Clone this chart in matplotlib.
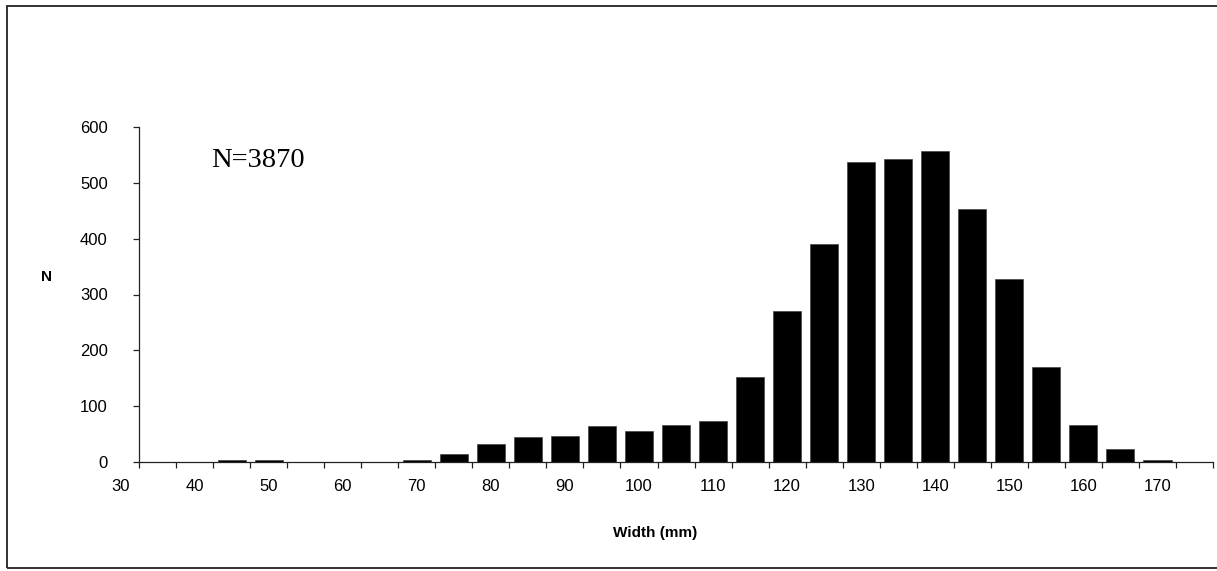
import matplotlib
matplotlib.use('Agg')
import matplotlib.pyplot as plt
from matplotlib.patches import Rectangle
from matplotlib.ticker import FixedLocator
import numpy as np

# width classes (mm, class centres) and number of specimens in each
widths = [45, 50, 70, 75, 80, 85, 90, 95, 100, 105, 110, 115, 120,
          125, 130, 135, 140, 145, 150, 155, 160, 165, 170]
counts = [4, 4, 4, 14, 32, 44, 47, 65, 56, 66, 74, 152, 271,
          390, 537, 542, 557, 453, 327, 171, 67, 24, 4]

x_labels = [30, 40, 50, 60, 70, 80, 90, 100, 110, 120, 130, 140, 150, 160, 170]
y_ticks = [0, 100, 200, 300, 400, 500, 600]

plt.rcParams['font.family'] = ['Liberation Sans', 'DejaVu Sans']

W, H = 1217, 571
fig = plt.figure(figsize=(W / 100, H / 100), dpi=100)
ax = fig.add_axes([102 / W, 1 - 462 / H, (1213 - 102) / W, (462 - 127) / H])

ax.bar(widths, counts, width=3.8, color='black', edgecolor='#444444', linewidth=0.5)

ax.set_xlim(27.5, 177.5)
ax.set_ylim(0, 600)

for s in ['top', 'right']:
    ax.spines[s].set_visible(False)
ax.spines['left'].set_position(('data', 32.5))
ax.spines['bottom'].set_bounds(32.5, 177.5)
for s in ['left', 'bottom']:
    ax.spines[s].set_color('#222222')
    ax.spines[s].set_linewidth(0.9)

# tick marks sit on class boundaries, labels every other class
ax.xaxis.set_major_locator(FixedLocator(np.arange(32.5, 178, 5)))
ax.xaxis.set_minor_locator(FixedLocator(x_labels))
ax.set_xticklabels([], minor=False)
ax.set_xticklabels([str(v) for v in x_labels], minor=True)
ax.tick_params(axis='x', which='major', direction='out', length=4.5,
               width=0.9, color='#222222')
ax.tick_params(axis='x', which='minor', length=0, pad=12, labelsize=12)

ax.set_yticks(y_ticks)
ax.tick_params(axis='y', direction='out', length=4.5, width=0.9,
               color='#222222', pad=18, labelsize=12)

fig.text(46.5 / W, 1 - 277.5 / H, 'N', fontsize=11, fontweight='bold',
         ha='center', va='center')
fig.text(655 / W, 1 - 533 / H, 'Width (mm)', fontsize=11, fontweight='bold',
         ha='center', va='center')
fig.text(211 / W, 1 - 167 / H, 'N=3870', family=['Liberation Serif'],
         fontsize=20.5, ha='left', va='baseline')

# chart frame
fig.patches.append(Rectangle((6.5 / W, 3 / H), (1225 - 6.5) / W, (565.5 - 3) / H,
                             transform=fig.transFigure, fill=False,
                             edgecolor='#222222', linewidth=1.3))

fig.savefig('out.png', dpi=100)
